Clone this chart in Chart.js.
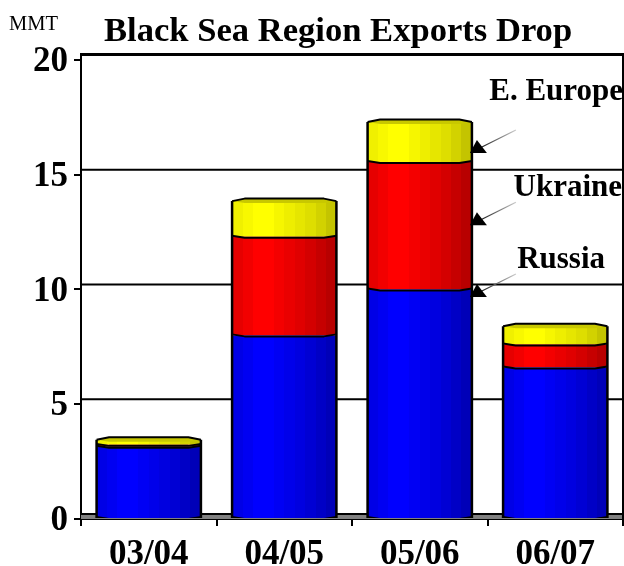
<!DOCTYPE html>
<html>
<head>
<meta charset="utf-8">
<title>Black Sea Region Exports Drop</title>
<script src="https://cdn.jsdelivr.net/npm/chart.js@4"></script>
<style>
  html, body { margin: 0; padding: 0; background: #fff; }
  #wrap { width: 624px; height: 566px; }
</style>
</head>
<body>
<div id="wrap"><canvas id="chart" width="624" height="566"></canvas></div>
<script>
const seasons = ['03/04', '04/05', '05/06', '06/07'];
const russia = [3.15, 8.0, 10.0, 6.6];
const ukraine = [0.08, 4.3, 5.55, 1.0];
const easternEurope = [0.22, 1.55, 1.75, 0.8];
const yTicks = [0, 5, 10, 15, 20];

// callouts point at the right edge of the 05/06 bar
const calloutNames = ['E. Europe', 'Ukraine', 'Russia'];
const calloutValues = [15.95, 12.8, 9.67];

const FONT = '"Liberation Serif", "Times New Roman", serif';
const BAR_PCT = 0.77;
const WALL_DEPTH = 5;

// banded shading, like the old 3D cylinder fill
function banded(chart, index, bands) {
  const x = chart.scales.x;
  const w = (x.right - x.left) / seasons.length * BAR_PCT;
  const cx = x.getPixelForValue(index);
  if (!Number.isFinite(w) || !Number.isFinite(cx)) return bands[2]; // scales not laid out yet
  const g = chart.ctx.createLinearGradient(cx - w / 2, 0, cx + w / 2, 0);
  bands.forEach((c, i) => {
    g.addColorStop(i / bands.length, c);
    g.addColorStop((i + 1) / bands.length, c);
  });
  return g;
}

const blueBands = ['#0000e6', '#0000f2', '#0000ff', '#0000ff', '#0000f4', '#0000ea', '#0000e0', '#0000d4', '#0000c6', '#0000b8'];
const redBands = ['#e60000', '#f20000', '#ff0000', '#ff0000', '#f40000', '#ea0000', '#e00000', '#d40000', '#c60000', '#b80000'];
const yellowBands = ['#f0f000', '#f8f800', '#ffff00', '#ffff00', '#f6f600', '#eeee00', '#e6e600', '#dede00', '#d2d200', '#c4c400'];

const backdrop = {
  id: 'backdrop',
  beforeDatasetsDraw(chart) {
    const { ctx, chartArea: a, scales: { y } } = chart;
    ctx.save();
    ctx.fillStyle = '#808080';
    ctx.fillRect(a.left, a.bottom - WALL_DEPTH - 1, a.right - a.left, WALL_DEPTH + 1);
    ctx.strokeStyle = '#000';
    ctx.lineWidth = 2;
    ctx.beginPath();
    yTicks.forEach((v) => {
      const py = y.getPixelForValue(v) - WALL_DEPTH;
      ctx.moveTo(a.left, py);
      ctx.lineTo(a.right, py);
    });
    ctx.moveTo(a.left, a.top);
    ctx.lineTo(a.right, a.top);
    ctx.lineTo(a.right, a.bottom);
    ctx.stroke();
    ctx.restore();
  },
};

const barOutlines = {
  id: 'barOutlines',
  afterDatasetsDraw(chart) {
    const { ctx } = chart;
    const last = chart.data.datasets.length - 1;
    ctx.save();
    ctx.strokeStyle = '#000';
    ctx.lineJoin = 'round';
    seasons.forEach((_, i) => {
      const bars = chart.data.datasets.map((_, d) => chart.getDatasetMeta(d).data[i]);
      const top = bars[last];
      const l = top.x - top.width / 2;
      const r = top.x + top.width / 2;
      const inset = top.width * 0.12;

      // sides
      ctx.lineWidth = 2.5;
      ctx.beginPath();
      ctx.moveTo(l, top.y);
      ctx.lineTo(l, bars[0].base);
      ctx.moveTo(r, top.y);
      ctx.lineTo(r, bars[0].base);
      ctx.stroke();

      // bottom corners
      ctx.fillStyle = '#000';
      [[l, inset], [r, -inset]].forEach(([sx, d]) => {
        ctx.beginPath();
        ctx.moveTo(sx, bars[0].base - 2);
        ctx.lineTo(sx + d, bars[0].base);
        ctx.lineTo(sx, bars[0].base);
        ctx.fill();
      });

      // seams between the stacked parts
      ctx.lineWidth = 2;
      bars.slice(0, last).forEach((b) => {
        ctx.beginPath();
        ctx.moveTo(l, b.y - 1);
        ctx.lineTo(l + inset, b.y + 1);
        ctx.lineTo(r - inset, b.y + 1);
        ctx.lineTo(r, b.y - 1);
        ctx.stroke();
      });

      // lid: olive top, only its upper edge is outlined
      ctx.fillStyle = '#c8c800';
      ctx.beginPath();
      ctx.moveTo(l, top.y);
      ctx.lineTo(l + inset, top.y - 2.5);
      ctx.lineTo(r - inset, top.y - 2.5);
      ctx.lineTo(r, top.y);
      ctx.lineTo(r - inset, top.y + 2);
      ctx.lineTo(l + inset, top.y + 2);
      ctx.closePath();
      ctx.fill();
      ctx.beginPath();
      ctx.moveTo(l, top.y);
      ctx.lineTo(l + inset, top.y - 2.5);
      ctx.lineTo(r - inset, top.y - 2.5);
      ctx.lineTo(r, top.y);
      ctx.stroke();
    });
    ctx.restore();
  },
};

const labels = {
  id: 'labels',
  afterDraw(chart) {
    const { ctx, scales: { y } } = chart;
    const bar = chart.getDatasetMeta(0).data[2];
    const tipX = bar.x + bar.width / 2 - 2;
    const textRight = [623, 622, 605];
    const textMid = [92, 188, 260];

    ctx.save();
    ctx.fillStyle = '#000';
    ctx.textBaseline = 'middle';
    ctx.textAlign = 'left';
    ctx.font = '20.5px ' + FONT;
    ctx.fillText('MMT', 9, 25);
    ctx.font = 'bold 34.6px ' + FONT;
    ctx.fillText('Black Sea Region Exports Drop', 104, 32);

    ctx.font = 'bold 31px ' + FONT;
    ctx.textAlign = 'right';
    calloutNames.forEach((name, i) => {
      ctx.fillStyle = '#000';
      ctx.fillText(name, textRight[i], textMid[i]);

      const tipY = y.getPixelForValue(calloutValues[i]);
      const fade = ctx.createLinearGradient(tipX + 8, tipY, tipX + 46, tipY - 23);
      fade.addColorStop(0, '#000');
      fade.addColorStop(1, '#ccc');
      ctx.strokeStyle = fade;
      ctx.lineWidth = 1.2;
      ctx.beginPath();
      ctx.moveTo(tipX + 8, tipY - 4);
      ctx.lineTo(tipX + 46, tipY - 23);
      ctx.stroke();

      ctx.beginPath();
      ctx.moveTo(tipX, tipY);
      ctx.lineTo(tipX + 7, tipY - 13);
      ctx.lineTo(tipX + 17, tipY);
      ctx.closePath();
      ctx.fill();
    });
    ctx.restore();
  },
};

new Chart(document.getElementById('chart'), {
  type: 'bar',
  data: {
    labels: seasons,
    datasets: [
      { label: 'Russia', data: russia, backgroundColor: (c) => banded(c.chart, c.dataIndex, blueBands) },
      { label: 'Ukraine', data: ukraine, backgroundColor: (c) => banded(c.chart, c.dataIndex, redBands) },
      { label: 'E. Europe', data: easternEurope, backgroundColor: (c) => banded(c.chart, c.dataIndex, yellowBands) },
    ],
  },
  options: {
    responsive: false,
    animation: false,
    devicePixelRatio: 1,
    layout: { padding: { top: 54, right: 1, left: 0, bottom: 0 } },
    datasets: { bar: { barPercentage: BAR_PCT, categoryPercentage: 1, borderWidth: 0 } },
    plugins: { legend: { display: false }, title: { display: false }, tooltip: { enabled: false } },
    scales: {
      x: {
        stacked: true,
        afterFit(scale) { scale.height = 47; },
        border: { color: '#000', width: 2 },
        grid: { drawOnChartArea: false, color: '#000', lineWidth: 2, tickLength: 7 },
        ticks: { color: '#000', font: { family: FONT, size: 35, weight: 'bold' }, padding: 8, maxRotation: 0 },
      },
      y: {
        stacked: true,
        min: 0,
        max: 20.26,
        afterFit(scale) { scale.width = 81; },
        afterBuildTicks(scale) { scale.ticks = yTicks.map((value) => ({ value })); },
        border: { color: '#000', width: 2 },
        grid: { drawOnChartArea: false, color: '#000', lineWidth: 2, tickLength: 7 },
        ticks: { color: '#000', font: { family: FONT, size: 35, weight: 'bold' }, padding: 6, labelOffset: 2 },
      },
    },
  },
  plugins: [backdrop, barOutlines, labels],
});
</script>
</body>
</html>
